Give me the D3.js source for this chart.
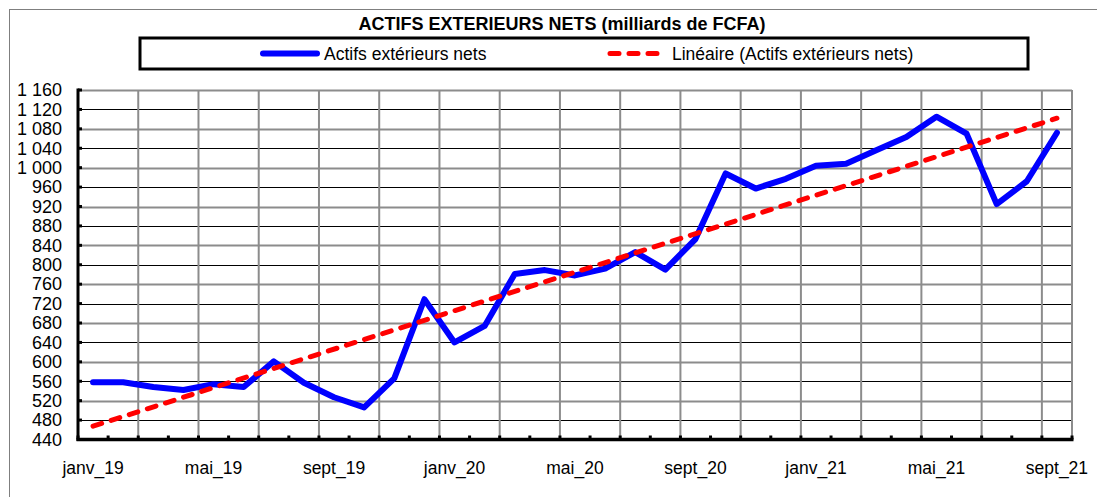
<!DOCTYPE html>
<html>
<head>
<meta charset="utf-8">
<script src="https://cdn.jsdelivr.net/npm/d3@7"></script>
<style>
  html, body { margin: 0; padding: 0; background: #fff; }
  svg { display: block; font-family: "Liberation Sans", Arial, sans-serif; }
</style>
</head>
<body>
<svg id="chart" width="1097" height="497"></svg>
<script>
// Monthly categories, janv_19 .. sept_21
const months = ["janv", "févr", "mars", "avr", "mai", "juin", "juil", "août", "sept", "oct", "nov", "déc"];
const categories = [];
for (let y = 19; y <= 21; y++) {
  for (let m = 0; m < 12; m++) {
    if (y === 21 && m > 8) break;
    categories.push(months[m] + "_" + y);
  }
}

// Actifs extérieurs nets, milliards de FCFA
const actifsNets = [
  558, 558, 548, 542, 554, 548, 601, 557, 527, 506, 566, 729,
  640, 674, 781, 789, 778, 792, 826, 790, 853, 988, 957, 977,
  1004, 1008, 1036, 1063, 1105, 1070, 925, 972, 1072
];

const yTicks = [440, 480, 520, 560, 600, 640, 680, 720, 760, 800, 840, 880, 920, 960, 1000, 1040, 1080, 1120, 1160];
const xLabelEvery = 4;

const title = "ACTIFS EXTERIEURS NETS (milliards de FCFA)";
const seriesName = "Actifs extérieurs nets";
const trendName = "Linéaire (Actifs extérieurs nets)";

// Least-squares linear trend over the category index
const n = actifsNets.length;
const meanX = d3.mean(d3.range(n));
const meanY = d3.mean(actifsNets);
const slope = d3.sum(actifsNets, (v, i) => (i - meanX) * (v - meanY)) /
              d3.sum(d3.range(n), i => (i - meanX) * (i - meanX));
const intercept = meanY - slope * meanX;
const trend = [0, n - 1].map(i => ({ i, v: intercept + slope * i }));

const svg = d3.select("#chart");
const fmt = v => d3.format(",")(v).replace(/,/g, " ");

// Outer chart frame
svg.append("rect")
  .attr("x", 9.5).attr("y", 9.5).attr("width", 1110).attr("height", 510)
  .attr("fill", "#fff").attr("stroke", "#7f7f7f").attr("stroke-width", 1);

const plot = { left: 78, right: 1072, top: 90, bottom: 439.5 };

const x = d3.scaleBand().domain(categories).range([plot.left, plot.right]).paddingInner(0).paddingOuter(0);
const xc = i => x(categories[i]) + x.bandwidth() / 2;
const y = d3.scaleLinear().domain([440, 1160]).range([plot.bottom, plot.top]);

// Horizontal gridlines: grey and black alternating
const g = svg.append("g");
g.selectAll("line.h").data(yTicks.slice(1)).join("line")
  .attr("x1", plot.left).attr("x2", plot.right)
  .attr("y1", d => Math.round(y(d)) + 0.5).attr("y2", d => Math.round(y(d)) + 0.5)
  .attr("stroke", d => ((d - 440) / 40) % 2 === 0 ? "#8c8c8c" : "#000")
  .attr("stroke-width", d => ((d - 440) / 40) % 2 === 0 ? 2 : 1);

// Vertical gridlines every two categories, plus right border
const vBounds = d3.range(2, n + 1, 2).concat([n]);
g.selectAll("line.v").data(vBounds).join("line")
  .attr("x1", b => plot.left + b * x.bandwidth()).attr("x2", b => plot.left + b * x.bandwidth())
  .attr("y1", plot.top).attr("y2", plot.bottom)
  .attr("stroke", "#8c8c8c").attr("stroke-width", 2);

// Y axis
const yAxis = d3.axisLeft(y).tickValues(yTicks).tickSize(0).tickPadding(16).tickFormat(fmt);
const ya = svg.append("g").attr("transform", `translate(${plot.left},0)`).call(yAxis);
ya.select(".domain").remove();
ya.selectAll("text").attr("font-size", 18).attr("fill", "#000")
  .attr("font-family", "'Liberation Sans', Arial, sans-serif");
svg.append("g").selectAll("line").data(yTicks).join("line")
  .attr("x1", plot.left).attr("x2", plot.left + 4)
  .attr("y1", d => y(d)).attr("y2", d => y(d))
  .attr("stroke", "#000").attr("stroke-width", 3);
svg.append("line")
  .attr("x1", plot.left).attr("x2", plot.left)
  .attr("y1", plot.top - 1.5).attr("y2", plot.bottom + 1.5)
  .attr("stroke", "#000").attr("stroke-width", 3);

// X axis
const xAxis = d3.axisBottom(x)
  .tickValues(categories.filter((c, i) => i % xLabelEvery === 0))
  .tickSize(0).tickPadding(22);
const xa = svg.append("g").attr("transform", `translate(0,${plot.bottom})`).call(xAxis);
xa.select(".domain").remove();
xa.selectAll("text").attr("font-size", 17.5).attr("fill", "#000")
  .attr("font-family", "'Liberation Sans', Arial, sans-serif");
svg.append("g").selectAll("line").data(d3.range(0, n + 1)).join("line")
  .attr("x1", b => plot.left + b * x.bandwidth()).attr("x2", b => plot.left + b * x.bandwidth())
  .attr("y1", plot.bottom).attr("y2", plot.bottom - 4)
  .attr("stroke", "#000").attr("stroke-width", 3);
svg.append("line")
  .attr("x1", plot.left - 1.5).attr("x2", plot.right + 1.5)
  .attr("y1", plot.bottom).attr("y2", plot.bottom)
  .attr("stroke", "#000").attr("stroke-width", 3.5);

// Series line
const line = d3.line().x((d, i) => xc(i)).y(d => y(d));
svg.append("path")
  .datum(actifsNets)
  .attr("d", line)
  .attr("fill", "none").attr("stroke", "#0000ff").attr("stroke-width", 6)
  .attr("stroke-linejoin", "round").attr("stroke-linecap", "round");

// Linear trend
svg.append("path")
  .datum(trend)
  .attr("d", d3.line().x(d => xc(d.i)).y(d => y(d.v)))
  .attr("fill", "none").attr("stroke", "#ff0000").attr("stroke-width", 5)
  .attr("stroke-dasharray", "9 10").attr("stroke-linecap", "round");

// Title
svg.append("text")
  .attr("x", 562).attr("y", 30).attr("text-anchor", "middle")
  .attr("font-size", 18).attr("font-weight", "bold").attr("fill", "#000")
  .text(title);

// Legend
const lg = svg.append("g");
lg.append("rect")
  .attr("x", 140).attr("y", 38).attr("width", 888).attr("height", 31)
  .attr("fill", "#fff").attr("stroke", "#000").attr("stroke-width", 3);
lg.append("line")
  .attr("x1", 263).attr("x2", 317).attr("y1", 53.5).attr("y2", 53.5)
  .attr("stroke", "#0000ff").attr("stroke-width", 6).attr("stroke-linecap", "round");
lg.append("text")
  .attr("x", 324).attr("y", 59.5).attr("font-size", 17.5).attr("fill", "#000")
  .text(seriesName);
lg.append("line")
  .attr("x1", 610).attr("x2", 660).attr("y1", 53.5).attr("y2", 53.5)
  .attr("stroke", "#ff0000").attr("stroke-width", 5).attr("stroke-linecap", "round")
  .attr("stroke-dasharray", "9 10");
lg.append("text")
  .attr("x", 672).attr("y", 59.5).attr("font-size", 17.5).attr("fill", "#000")
  .text(trendName);
</script>
</body>
</html>
